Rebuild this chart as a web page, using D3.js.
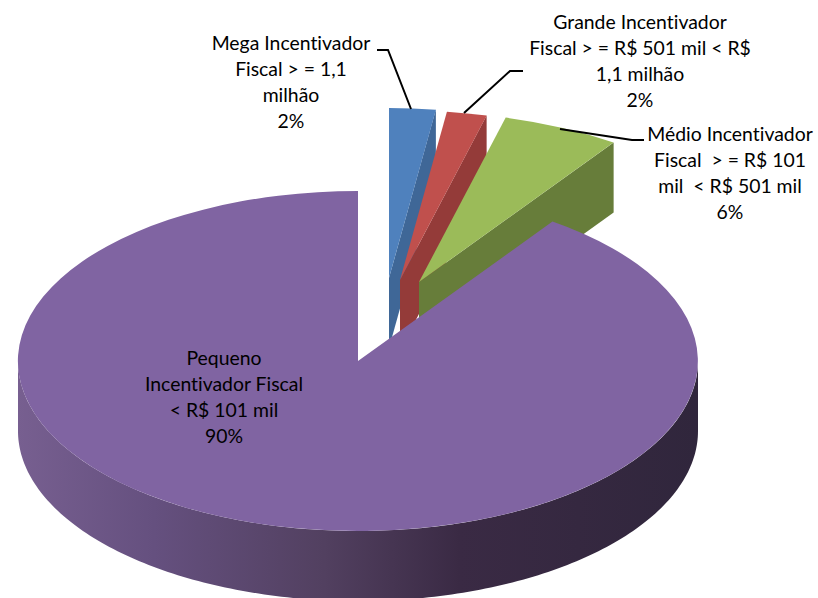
<!DOCTYPE html>
<html>
<head>
<meta charset="utf-8">
<script src="https://cdn.jsdelivr.net/npm/d3@7"></script>
<style>
  html, body { margin: 0; background: #fff; }
  svg { display: block; }
  text { font-family: Lato, "Open Sans", sans-serif; font-size: 19.4px; fill: #000; text-anchor: middle; font-variant-ligatures: none; white-space: pre; }
</style>
</head>
<body>
<div id="chart"></div>
<script>
// values (the printed labels are rounded)
const categories = ["Mega Incentivador", "Grande Incentivador", "Médio Incentivador", "Pequeno Incentivador"];
const shares = [2.2, 1.9, 5.6, 90.3];
const labelLines = [
  ["Mega Incentivador", "Fiscal > = 1,1", "milhão", "2%"],
  ["Grande Incentivador", "Fiscal > = R$ 501 mil < R$", "1,1 milhão", "2%"],
  ["Médio Incentivador", "Fiscal  > = R$ 101", "mil  < R$ 501 mil", "6%"],
  ["Pequeno", "Incentivador Fiscal", "< R$ 101 mil", "90%"]
];
const faceColors = ["#4F81BD", "#C0504D", "#9BBB59", "#8064A2"];
const wallColors = ["#3F6797", "#943B39", "#677D3A", "#4f3d60"];

// layout
const width = 818, height = 598;
const cx = 358, cy = 361, rx = 340, ry = 170, depth = 70;
const explode = [[31, -83], [42, -81], [61, -79], [0, 0]];
const labelPos = [[291, 50], [640, 29], [730, 141], [224, 365]];
const lineStep = 26;
const leaders = [
  [[377, 50], [388, 50], [411, 109]],
  [[523, 71], [510, 71], [464, 113]],
  [[560, 129], [632, 140], [644, 140]]
];

const svg = d3.select("#chart").append("svg")
  .attr("width", width)
  .attr("height", height);

// side gradient of the big slice, runs in the group's own coordinates
const sideStops = [
  [0, "#775f90"], [0.2, "#65507f"], [0.45, "#524060"],
  [0.65, "#3a2a44"], [1, "#30263c"]
];
const grad = svg.append("defs").append("linearGradient")
  .attr("id", "sideGrad")
  .attr("gradientUnits", "userSpaceOnUse")
  .attr("x1", -rx).attr("x2", rx)
  .attr("y1", 0).attr("y2", 0);
grad.selectAll("stop").data(sideStops).join("stop")
  .attr("offset", d => d[0])
  .attr("stop-color", d => d[1]);

const x = d3.scaleLinear().domain([-1, 1]).range([-rx, rx]);
const y = d3.scaleLinear().domain([-1, 1]).range([-ry, ry]);

const pie = d3.pie().sort(null).value(d => d).startAngle(0).endAngle(2 * Math.PI);
const arcs = pie(shares);

const arc = d3.arc().innerRadius(0).outerRadius(1);
const line = d3.line();

// wall of a wedge along its closing radius, seen below the top face
function wallPoints(a, off) {
  const ex = x(Math.sin(a)), ey = y(-Math.cos(a));
  return [
    [off[0], off[1]],
    [off[0] + ex, off[1] + ey],
    [off[0] + ex, off[1] + ey + depth],
    [off[0], off[1] + depth]
  ];
}

const g = svg.append("g").attr("transform", `translate(${cx},${cy})`);

// the three pulled out slices go first, the big one covers them
arcs.slice(0, 3).forEach((d, i) => {
  const off = explode[i];
  g.append("path")
    .attr("d", line(wallPoints(d.endAngle, off)) + "Z")
    .attr("fill", wallColors[i]);
  g.append("path")
    .attr("d", arc(d))
    .attr("transform", `translate(${off[0]},${off[1]}) scale(${rx},${ry})`)
    .attr("fill", faceColors[i]);
});

// outer wall of the big slice
const sideAngles = d3.range(90, 270.5, 1).map(t => t * Math.PI / 180);
const sideTop = sideAngles.map(a => [x(Math.sin(a)), y(-Math.cos(a))]);
const sideBottom = sideTop.map(p => [p[0], p[1] + depth]).reverse();
g.append("path")
  .attr("d", line(sideTop.concat(sideBottom)) + "Z")
  .attr("fill", "url(#sideGrad)");

g.append("path")
  .attr("d", arc(arcs[3]))
  .attr("transform", `scale(${rx},${ry})`)
  .attr("fill", faceColors[3]);

// leader lines
svg.selectAll("path.leader").data(leaders).join("path")
  .attr("class", "leader")
  .attr("d", d => line(d))
  .attr("fill", "none")
  .attr("stroke", "#000")
  .attr("stroke-width", 2);

// labels
labelLines.forEach((lines, i) => {
  const t = svg.append("text").attr("data-cat", categories[i]);
  t.selectAll("tspan").data(lines).join("tspan")
    .attr("x", labelPos[i][0])
    .attr("y", (d, j) => labelPos[i][1] + j * lineStep)
    .text(d => d);
});
</script>
</body>
</html>
